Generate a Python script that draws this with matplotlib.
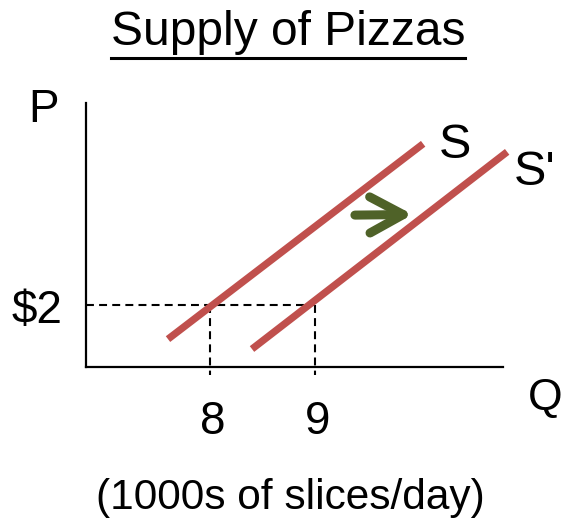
import matplotlib
matplotlib.use("Agg")
import matplotlib.pyplot as plt
from matplotlib.lines import Line2D
from matplotlib.patches import FancyArrowPatch

plt.rcParams["font.family"] = ["Liberation Sans", "DejaVu Sans"]

# Supply curves (quantity in 1000s of slices/day, price in $)
supply_q = [7.6, 10.03]
supply_p = [0.90, 7.20]
shifted_q = [8.4, 10.83]
shifted_p = [0.58, 6.94]

price_level = 2
quantities = [8, 9]
quantity_labels = ["8", "9"]
price_label = "$2"

shift_arrow_q = [9.38, 9.93]
shift_arrow_p = [4.90, 4.92]

RED = "#C0504D"
GREEN = "#4F6228"

W, H = 562, 519
fig = plt.figure(figsize=(W / 100, H / 100), dpi=100)

# axes box in pixel terms: left 86, right 503, top 103, bottom 367
ax = fig.add_axes([86 / W, (H - 367) / H, (503 - 86) / W, (367 - 103) / H])
ax.set_xlim(8 - 124 / 105, 8 + 293 / 105)
ax.set_ylim(0, 264 / 31)
for side in ("top", "right"):
    ax.spines[side].set_visible(False)
for side in ("left", "bottom"):
    ax.spines[side].set_linewidth(1.6)
    ax.spines[side].set_color("black")
ax.set_xticks([])
ax.set_yticks([])
ax.patch.set_alpha(0)

# dashed guide lines
dash = (0, (3.8, 2.5))
x0 = ax.get_xlim()[0]
ax.plot([x0, quantities[1]], [price_level, price_level], color="black",
        lw=1.5, linestyle=dash, clip_on=False)
for q in quantities:
    ax.plot([q, q], [price_level, -0.26], color="black", lw=1.5,
            linestyle=dash, clip_on=False)

# supply curves
ax.plot(supply_q, supply_p, color=RED, lw=5.2, solid_capstyle="butt")
ax.plot(shifted_q, shifted_p, color=RED, lw=5.2, solid_capstyle="butt",
        clip_on=False)

# shift arrow
arrow = FancyArrowPatch((shift_arrow_q[0], shift_arrow_p[0]),
                        (shift_arrow_q[1], shift_arrow_p[1]),
                        arrowstyle="->,head_length=1.2,head_width=0.65",
                        mutation_scale=20, color=GREEN, lw=6.5,
                        capstyle="round", joinstyle="round",
                        shrinkA=0, shrinkB=0)
ax.add_patch(arrow)

# quantity labels under the axis
for q, lab in zip(quantities, quantity_labels):
    ax.annotate(lab, xy=(q, 0), xytext=(2, -48), textcoords="offset points",
                ha="center", va="baseline", fontsize=33, annotation_clip=False)

def px(x, y):
    return x / W, 1 - y / H

fig.text(*px(37, 323), price_label, ha="center", va="baseline", fontsize=33)
fig.text(*px(43, 122), "P", ha="center", va="baseline", fontsize=33)
fig.text(*px(545, 410), "Q", ha="center", va="baseline", fontsize=32)
fig.text(*px(455, 158), "S", ha="center", va="baseline", fontsize=35)
fig.text(*px(535, 185), "S'", ha="center", va="baseline", fontsize=35)
fig.text(*px(290, 509), "(1000s of slices/day)", ha="center",
         va="baseline", fontsize=30.5)

title = fig.text(*px(288, 45), "Supply of Pizzas", ha="center",
                 va="baseline", fontsize=34.5)

# underline the title
renderer = fig.canvas.get_renderer()
bb = title.get_window_extent(renderer)
uy = bb.y0 - 2.5
fig.add_artist(Line2D([bb.x0 / W, bb.x1 / W], [uy / H, uy / H],
                      transform=fig.transFigure, color="black", lw=2.2))

fig.savefig("out.png", dpi=100, facecolor="white")
